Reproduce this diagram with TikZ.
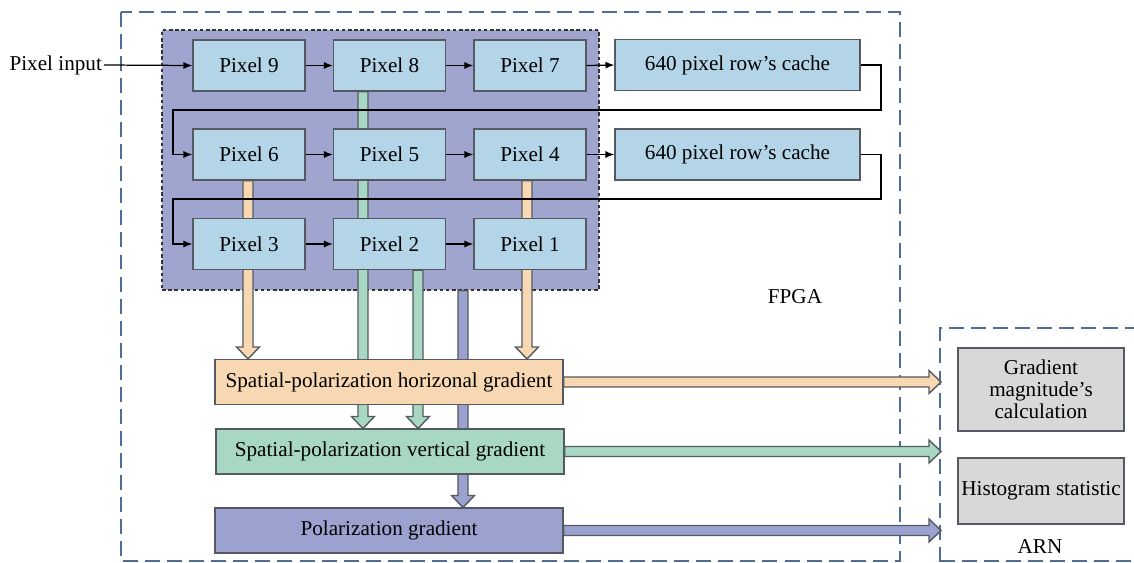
\documentclass[tikz,border=0pt]{standalone}
\usepackage{fontspec}
\setmainfont{LiberationSerif}[Extension=.ttf, UprightFont=*-Regular, BoldFont=*-Bold, ItalicFont=*-Italic]
\usetikzlibrary{calc,arrows.meta,fit}
\pgfdeclarelayer{back}\pgfdeclarelayer{mid}
\pgfsetlayers{back,mid,main}
\definecolor{pixblue}{HTML}{B4D5E8}
\definecolor{gridbg}{HTML}{9FA5CE}
\definecolor{orng}{HTML}{F8D8B2}
\definecolor{grn}{HTML}{A8D8C3}
\definecolor{purp}{HTML}{9CA2D0}
\definecolor{gry}{HTML}{D8D8D8}
\definecolor{edgec}{HTML}{555A60}
\definecolor{dashblue}{HTML}{4E6E96}
\newcommand\blkdown[3]{\draw[blk,fill=#1] let \p1=#2,\p2=#3 in (\x1-2.85pt,\y1) -- (\x1-2.85pt,\y2+6.8pt) -- (\x1-6.5pt,\y2+6.8pt) -- (\x1,\y2) -- (\x1+6.5pt,\y2+6.8pt) -- (\x1+2.85pt,\y2+6.8pt) -- (\x1+2.85pt,\y1) -- cycle;}
\newcommand\blkright[3]{\draw[blk,fill=#1] let \p1=#2,\p2=#3 in (\x1,\y1+2.85pt) -- (\x2-6.8pt,\y1+2.85pt) -- (\x2-6.8pt,\y1+6.5pt) -- (\x2,\y1) -- (\x2-6.8pt,\y1-6.5pt) -- (\x2-6.8pt,\y1-2.85pt) -- (\x1,\y1-2.85pt) -- cycle;}
\tikzset{
  x=0.567pt, y=-0.567pt,
  every node/.style={font=\rmfamily\fontsize{12}{13.5}\selectfont},
  pix/.style={draw=edgec, fill=pixblue, line width=0.8pt, minimum width=63.5pt, minimum height=28.9pt, inner sep=0pt},
  cache/.style={pix, minimum width=138.9pt},
  grad/.style={draw=edgec, line width=0.8pt, minimum width=197.3pt, minimum height=25.3pt, inner sep=0pt},
  graybox/.style={draw=edgec, fill=gry, line width=0.8pt, minimum width=94.1pt, inner sep=0pt, align=center},
  blk/.style={draw=edgec, line width=0.8pt, line join=miter},
  thinarrow/.style={draw=black, line width=0.7pt, -{Latex[length=5pt,width=4pt]}},
  bigdash/.style={draw=dashblue, line width=1.2pt, dash pattern=on 8.5pt off 4pt},
}
\begin{document}
\begin{tikzpicture}
\useasboundingbox (0,0) rectangle (1134,563);
% helper coordinates
\coordinate (gA) at (162,30);
\coordinate (gB) at (599,290);
\coordinate (o1) at (248,0);
\coordinate (o2) at (527,0);
\coordinate (g1) at (363,0);
\coordinate (g2) at (418,0);
\coordinate (pu) at (463,0);
\coordinate (arnW) at (941,0);
\coordinate (rx) at (881,0);
\coordinate (l1) at (173,110);
\coordinate (l2) at (173,199);

% pixel boxes
\node[pix] (p9) at (249,65.5) {Pixel 9};
\node[pix] (p8) at (389.5,65.5) {Pixel 8};
\node[pix] (p7) at (530,65.5) {Pixel 7};
\node[pix] (p6) at (249,154.5) {Pixel 6};
\node[pix] (p5) at (389.5,154.5) {Pixel 5};
\node[pix] (p4) at (530,154.5) {Pixel 4};
\node[pix] (p3) at (249,244) {Pixel 3};
\node[pix] (p2) at (389.5,244) {Pixel 2};
\node[pix] (p1) at (530,244) {Pixel 1};
\node[cache] (c1) at (737.5,65) {640 pixel row’s cache};
\node[cache] (c2) at (737.5,154.5) {640 pixel row’s cache};

% gradient boxes
\node[grad, fill=orng] (hor) at (389,382) {Spatial-polarization horizonal gradient};
\node[grad, fill=grn] (ver) at (390,451.5) {Spatial-polarization vertical gradient};
\node[grad, fill=purp] (pol) at (389,530.5) {Polarization gradient};

% ARN boxes
\node[graybox, minimum height=47pt] (gm) at (1041,389.5) {Gradient\\[-1pt]magnitude’s\\[-1pt]calculation};
\node[graybox, minimum height=37.4pt] (hs) at (1041,491) {Histogram statistic};

% labels
\node[anchor=east, inner sep=1pt] (in) at (104,65) {Pixel input};
\node (fpga) at (795,297) {FPGA};
\node (arn) at (1040,547) {ARN};

% background layer: grid box and dashed frames
\begin{pgfonlayer}{back}
\node[fit=(gA)(gB), inner sep=0pt, fill=gridbg, draw=black!80, line width=0.7pt, dash pattern=on 2pt off 1.5pt] (grid) {};
\draw[bigdash] (121,12) rectangle (900,561);
\begin{scope}
\clip (0,0) rectangle (1134,563);
\draw[bigdash] (1140,328) -- (940,328) -- (940,566);
\draw[bigdash] (940,561) -- (1140,561);
\end{scope}
\end{pgfonlayer}

% block arrows
\begin{pgfonlayer}{mid}
\blkdown{orng}{(p6.south -| o1)}{(hor.north -| o1)}
\blkdown{orng}{(p4.south -| o2)}{(hor.north -| o2)}
\blkdown{grn}{(p8.south -| g1)}{(ver.north -| g1)}
\blkdown{grn}{(p2.south -| g2)}{(ver.north -| g2)}
\blkdown{purp}{(grid.south -| pu)}{(pol.north -| pu)}
\blkright{orng}{(hor.east)}{(hor.east -| arnW)}
\blkright{grn}{(ver.east)}{(ver.east -| arnW)}
\blkright{purp}{(pol.east)}{(pol.east -| arnW)}
\end{pgfonlayer}

% thin connectors
\draw[thinarrow] (in.east) -- (p9.west);
\draw[thinarrow] (p9.east) -- (p8.west);
\draw[thinarrow] (p8.east) -- (p7.west);
\draw[thinarrow] (p7.east) -- (c1.west);
\draw[thinarrow] (p6.east) -- (p5.west);
\draw[thinarrow] (p5.east) -- (p4.west);
\draw[thinarrow] (p4.east) -- (c2.west);
\draw[thinarrow] (p3.east) -- (p2.west);
\draw[thinarrow] (p2.east) -- (p1.west);
\draw[thinarrow] (c1.east) -- (c1.east -| rx) |- (l1) |- (p6.west);
\draw[thinarrow] (c2.east) -- (c2.east -| rx) |- (l2) |- (p3.west);
\end{tikzpicture}
\end{document}
